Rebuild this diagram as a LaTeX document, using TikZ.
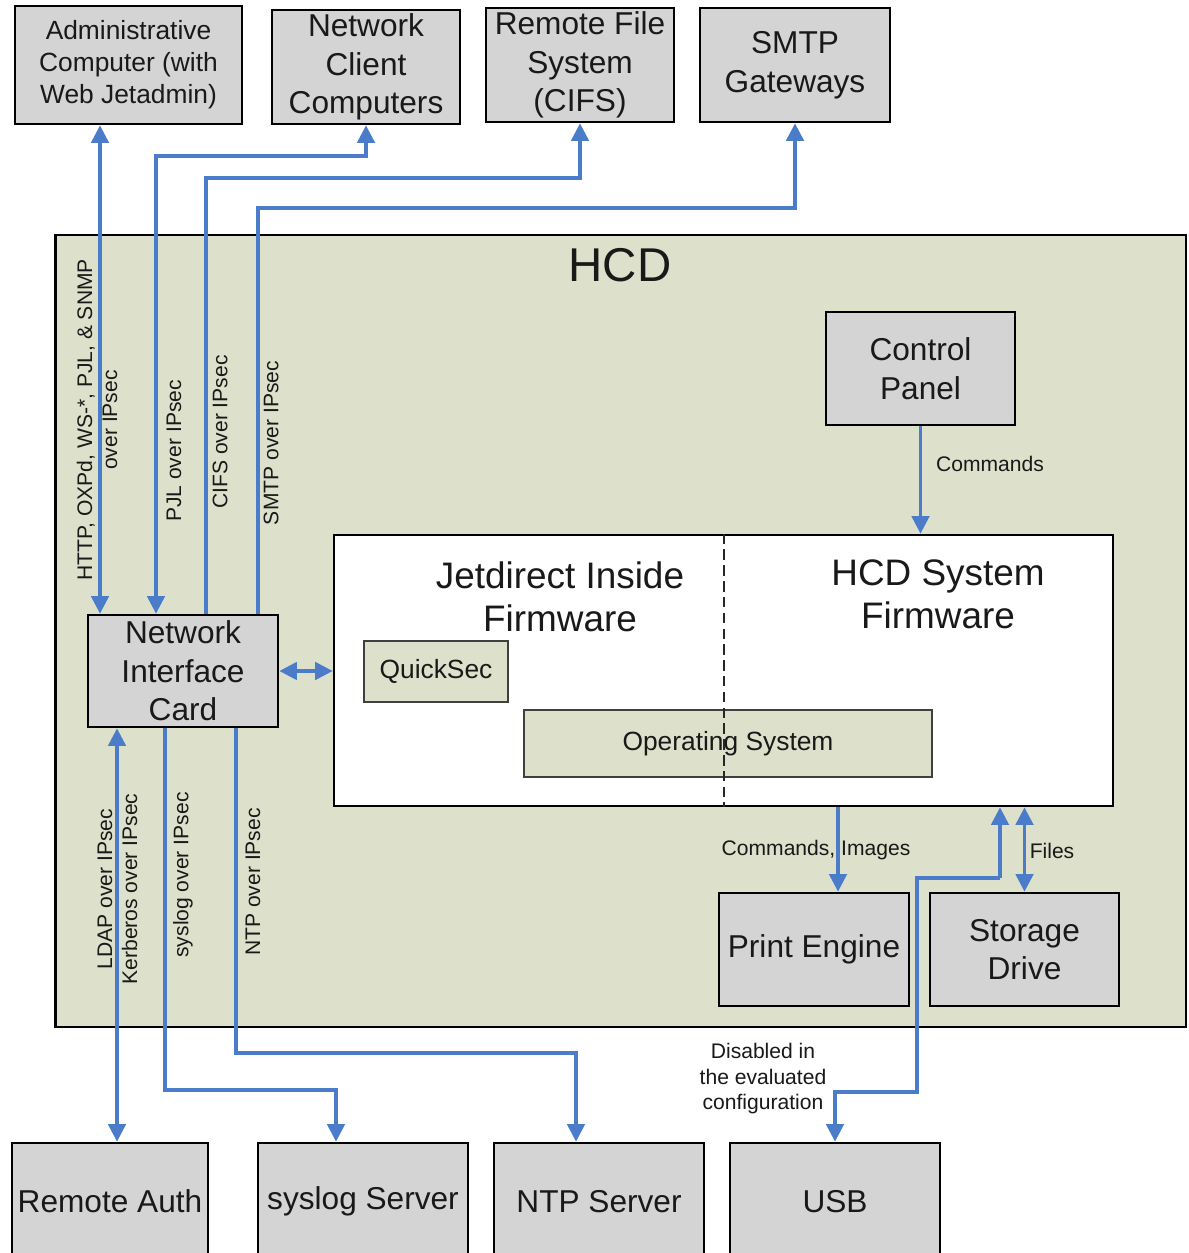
\documentclass[tikz,border=0pt]{standalone}
\usepackage{fontspec}
\setmainfont{Liberation Sans}
\usetikzlibrary{arrows.meta}
\definecolor{gbox}{RGB}{212,212,212}
\definecolor{hcdfill}{RGB}{221,224,203}
\definecolor{arrblue}{RGB}{74,124,201}
\newcommand\fsz[2]{\fontsize{#1pt}{#2pt}\selectfont}
\begin{document}
\begin{tikzpicture}[x=0.02cm,y=-0.02cm,
  graybox/.style={draw=black,line width=1.6pt,fill=gbox,inner sep=0pt,align=center,text=black!90,font=\fsz{18}{22}},
  olivebox/.style={draw=black!75,line width=1.2pt,fill=hcdfill,inner sep=0pt,align=center,text=black!90,font=\fsz{15}{18}},
  conn/.style={draw=arrblue,line width=1.8pt},
  arr/.style={conn,-{Triangle[length=10pt,width=10pt]}},
  barr/.style={conn,{Triangle[length=10pt,width=10pt]}-{Triangle[length=10pt,width=10pt]}},
  vlabel/.style={rotate=90,font=\fsz{12}{14.2},align=center,text=black!90},
  hlabel/.style={font=\fsz{12}{14.5},align=center,text=black!90}
]
\useasboundingbox[fill=white] (0,0) rectangle (1188,1253);

% top boxes
\node[graybox,minimum width=4.54cm,minimum height=2.36cm,font=\fsz{15}{18.2}] (admin) at (128.5,65) {Administrative\\Computer (with\\Web Jetadmin)};
\node[graybox,minimum width=3.76cm,minimum height=2.28cm] (client) at (366,67) {Network\\Client\\Computers};
\node[graybox,minimum width=3.76cm,minimum height=2.28cm] (cifs) at (580,65) {Remote File\\System\\(CIFS)};
\node[graybox,minimum width=3.80cm,minimum height=2.28cm] (smtp) at (795,65) {SMTP\\Gateways};

% HCD container
\node[draw=black,line width=1.6pt,fill=hcdfill,minimum width=22.62cm,minimum height=15.84cm,inner sep=0pt] (hcd) at (620.5,631) {};
\node[font=\fsz{27}{32},text=black!90] (hcdlabel) at (620,265) {HCD};

\node[graybox,minimum width=3.78cm,minimum height=2.26cm] (control) at (920.5,368.5) {Control\\Panel};

% inner firmware box
\node[draw=black,line width=1.6pt,fill=white,minimum width=15.58cm,minimum height=5.42cm,inner sep=0pt] (inner) at (723.5,670.5) {};
\node[font=\fsz{21}{24.5},align=center,text=black!90] (jd) at (560,597) {Jetdirect Inside\\Firmware};
\node[font=\fsz{21}{24.5},align=center,text=black!90] (sysfw) at (938,594) {HCD System\\Firmware};
\node[olivebox,minimum width=2.88cm,minimum height=1.22cm] (qs) at (436,671.5) {QuickSec};
\node[olivebox,minimum width=8.16cm,minimum height=1.34cm] (os) at (728,743.5) {Operating System};
\coordinate (dl) at (724,0);
\draw[black!85,line width=1.1pt,dash pattern=on 6pt off 3pt] (inner.north -| dl) -- (inner.south -| dl);

\node[graybox,minimum width=3.8cm,minimum height=2.24cm] (nic) at (183,671) {Network\\Interface\\Card};
\node[graybox,minimum width=3.8cm,minimum height=2.26cm] (print) at (814,949.5) {Print Engine};
\node[graybox,minimum width=3.78cm,minimum height=2.26cm] (storage) at (1024.5,949.5) {Storage\\Drive};

% bottom boxes
\node[graybox,minimum width=3.92cm,minimum height=2.34cm] (ra) at (110,1201.5) {Remote Auth};
\node[graybox,minimum width=4.2cm,minimum height=2.34cm] (syslog) at (363,1201.5) {syslog Server};
\node[graybox,minimum width=4.2cm,minimum height=2.34cm] (ntp) at (599,1201.5) {NTP Server};
\node[graybox,minimum width=4.2cm,minimum height=2.34cm] (usb) at (835,1201.5) {USB};

% lane coordinates
\coordinate (L1) at (100,0);
\coordinate (L2) at (156,0);  \coordinate (H2) at (0,156);
\coordinate (L3) at (206,0);  \coordinate (H3) at (0,178);
\coordinate (L4) at (258,0);  \coordinate (H4) at (0,208);
\coordinate (L5) at (838,0);
\coordinate (L6) at (1000,0); \coordinate (H6) at (0,878);
\coordinate (L7) at (917,0);  \coordinate (H7) at (0,1092);
\coordinate (L8) at (117,0);
\coordinate (L9) at (165,0);  \coordinate (H9) at (0,1090);
\coordinate (L10) at (336,0);
\coordinate (L11) at (236,0); \coordinate (H11) at (0,1053);
\coordinate (L12) at (576,0);

% connectors top
\draw[barr] (nic.north -| L1) -- (admin.south -| L1);
\draw[barr] (nic.north -| L2) -- (L2 |- H2) -| (client.south);
\draw[arr] (nic.north -| L3) -- (L3 |- H3) -| (cifs.south);
\draw[arr] (nic.north -| L4) -- (L4 |- H4) -| (smtp.south);

% internal connectors
\draw[barr] (nic.east) -- (nic.east -| inner.west);
\draw[arr] (control.south) -- (control.south |- inner.north);
\draw[arr] (inner.south -| L5) -- (print.north -| L5);
\draw[barr] (storage.north) -- (storage.north |- inner.south);
\draw[arr] (L6 |- H6) -- (inner.south -| L6);
\draw[arr] (L6 |- H6) -- (L7 |- H6) -- (L7 |- H7) -| (usb.north);

% connectors bottom
\draw[barr] (nic.south -| L8) -- (ra.north -| L8);
\draw[arr] (nic.south -| L9) -- (L9 |- H9) -- (L10 |- H9) -- (syslog.north -| L10);
\draw[arr] (nic.south -| L11) -- (L11 |- H11) -- (L12 |- H11) -- (ntp.north -| L12);

% labels
\node[vlabel] (lab1) at (97,420) {HTTP, OXPd, WS-*, PJL, \& SNMP\\over IPsec};
\node[vlabel] (lab2) at (174,451) {PJL over IPsec};
\node[vlabel] (lab3) at (220,432) {CIFS over IPsec};
\node[vlabel] (lab4) at (271,443) {SMTP over IPsec};
\node[vlabel] (lab5) at (117.5,889) {LDAP over IPsec\\Kerberos over IPsec};
\node[vlabel] (lab6) at (183,875) {syslog over IPsec};
\node[vlabel] (lab7) at (253,882) {NTP over IPsec};
\node[hlabel] (lab8) at (990,464) {Commands};
\node[hlabel] (lab9) at (816,850) {Commands, Images};
\node[hlabel] (lab10) at (1052,851) {Files};
\node[hlabel] (lab11) at (763,1079) {Disabled in\\the evaluated\\configuration};
\end{tikzpicture}
\end{document}
